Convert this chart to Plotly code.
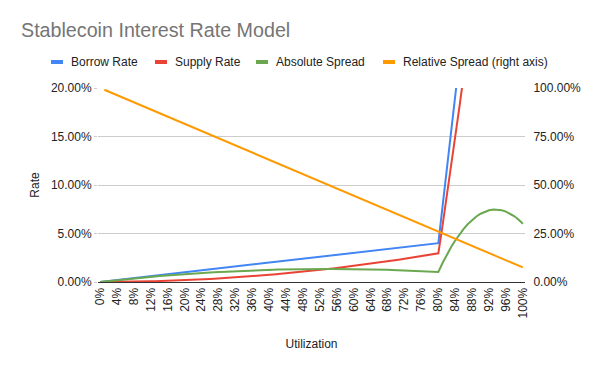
import plotly.graph_objects as go

# Utilization categories (percent)
utilization = list(range(0, 101))

tick_vals = [0, 4, 8, 12, 16, 20, 24, 28, 32, 36, 40, 44, 48, 52, 56, 60, 64, 68, 72, 76, 80, 84, 88, 92, 96, 100]
tick_text = ["0%", "4%", "8%", "12%", "16%", "20%", "24%", "28%", "32%", "36%", "40%", "44%", "48%",
             "52%", "56%", "60%", "64%", "68%", "72%", "76%", "80%", "84%", "88%", "92%", "96%", "100%"]

# Borrow rate (%), U = 0..100
borrow_rate = [
    0.00, 0.05, 0.10, 0.15, 0.20, 0.25, 0.30, 0.35, 0.40, 0.45,
    0.50, 0.55, 0.60, 0.65, 0.70, 0.75, 0.80, 0.85, 0.90, 0.95,
    1.00, 1.05, 1.10, 1.15, 1.20, 1.25, 1.30, 1.35, 1.40, 1.45,
    1.50, 1.55, 1.60, 1.65, 1.70, 1.75, 1.80, 1.85, 1.90, 1.95,
    2.00, 2.05, 2.10, 2.15, 2.20, 2.25, 2.30, 2.35, 2.40, 2.45,
    2.50, 2.55, 2.60, 2.65, 2.70, 2.75, 2.80, 2.85, 2.90, 2.95,
    3.00, 3.05, 3.10, 3.15, 3.20, 3.25, 3.30, 3.35, 3.40, 3.45,
    3.50, 3.55, 3.60, 3.65, 3.70, 3.75, 3.80, 3.85, 3.90, 3.95,
    4.00, 7.80, 11.60, 15.40, 19.20, 23.00, 26.80, 30.60, 34.40, 38.20,
    42.00, 45.80, 49.60, 53.40, 57.20, 61.00, 64.80, 68.60, 72.40, 76.20,
    80.00,
]

# Supply rate (%)
supply_rate = [
    0.000, 0.000, 0.002, 0.004, 0.007, 0.012, 0.017, 0.023, 0.030, 0.037,
    0.046, 0.056, 0.067, 0.078, 0.091, 0.104, 0.118, 0.134, 0.150, 0.167,
    0.185, 0.204, 0.224, 0.245, 0.266, 0.289, 0.313, 0.337, 0.363, 0.389,
    0.416, 0.444, 0.474, 0.504, 0.535, 0.567, 0.599, 0.633, 0.668, 0.703,
    0.740, 0.777, 0.816, 0.855, 0.895, 0.937, 0.979, 1.022, 1.066, 1.110,
    1.156, 1.203, 1.251, 1.299, 1.349, 1.399, 1.450, 1.503, 1.556, 1.610,
    1.665, 1.721, 1.778, 1.836, 1.894, 1.954, 2.015, 2.076, 2.139, 2.202,
    2.266, 2.331, 2.398, 2.465, 2.533, 2.602, 2.671, 2.742, 2.814, 2.886,
    2.960, 5.844, 8.799, 11.823, 14.918, 18.084, 21.319, 24.625, 28.002, 31.448,
    34.965, 38.552, 42.210, 45.937, 49.735, 53.604, 57.542, 61.551, 65.631, 69.780,
    74.000,
]

# Absolute spread (%)
absolute_spread = [
    0.000, 0.050, 0.098, 0.146, 0.193, 0.238, 0.283, 0.327, 0.370, 0.413,
    0.454, 0.494, 0.533, 0.572, 0.609, 0.646, 0.682, 0.716, 0.750, 0.783,
    0.815, 0.846, 0.876, 0.905, 0.934, 0.961, 0.987, 1.013, 1.037, 1.061,
    1.084, 1.106, 1.126, 1.146, 1.165, 1.183, 1.201, 1.217, 1.232, 1.247,
    1.260, 1.273, 1.284, 1.295, 1.305, 1.313, 1.321, 1.328, 1.334, 1.340,
    1.344, 1.347, 1.349, 1.351, 1.351, 1.351, 1.350, 1.347, 1.344, 1.340,
    1.335, 1.329, 1.322, 1.314, 1.306, 1.296, 1.285, 1.274, 1.261, 1.248,
    1.234, 1.219, 1.202, 1.185, 1.167, 1.148, 1.129, 1.108, 1.086, 1.064,
    1.040, 1.956, 2.801, 3.577, 4.282, 4.916, 5.481, 5.975, 6.398, 6.752,
    7.035, 7.248, 7.390, 7.463, 7.465, 7.396, 7.258, 7.049, 6.769, 6.420,
    6.000,
]

# Relative spread (%), right axis; undefined at 0% utilization
relative_spread = [
    None, 99.075, 98.150, 97.225, 96.300, 95.375, 94.450, 93.525, 92.600, 91.675,
    90.750, 89.825, 88.900, 87.975, 87.050, 86.125, 85.200, 84.275, 83.350, 82.425,
    81.500, 80.575, 79.650, 78.725, 77.800, 76.875, 75.950, 75.025, 74.100, 73.175,
    72.250, 71.325, 70.400, 69.475, 68.550, 67.625, 66.700, 65.775, 64.850, 63.925,
    63.000, 62.075, 61.150, 60.225, 59.300, 58.375, 57.450, 56.525, 55.600, 54.675,
    53.750, 52.825, 51.900, 50.975, 50.050, 49.125, 48.200, 47.275, 46.350, 45.425,
    44.500, 43.575, 42.650, 41.725, 40.800, 39.875, 38.950, 38.025, 37.100, 36.175,
    35.250, 34.325, 33.400, 32.475, 31.550, 30.625, 29.700, 28.775, 27.850, 26.925,
    26.000, 25.075, 24.150, 23.225, 22.300, 21.375, 20.450, 19.525, 18.600, 17.675,
    16.750, 15.825, 14.900, 13.975, 13.050, 12.125, 11.200, 10.275, 9.350, 8.425,
    7.500,
]

series_names = ["Borrow Rate", "Supply Rate", "Absolute Spread", "Relative Spread (right axis)"]
colors = ["#4285F4", "#EA4335", "#6AA84F", "#FF9900"]

W, H = 600, 371
T, B, L, R = 88, 89, 98, 75
plot_w = W - L - R
plot_h = H - T - B


def px_x(px):
    return (px - L) / plot_w


def px_y(py):
    return (H - B - py) / plot_h


fig = go.Figure()
data_sets = [borrow_rate, supply_rate, absolute_spread, relative_spread]
axes = ["y", "y", "y", "y2"]
for name, vals, col, ax in zip(series_names, data_sets, colors, axes):
    fig.add_trace(go.Scatter(
        x=utilization, y=vals, mode="lines", name=name, yaxis=ax,
        line=dict(color=col, width=2), showlegend=False, connectgaps=False,
    ))

# Custom single-row legend (swatch + label) in the top margin
legend_swatch_px = [51, 155, 256, 383]
legend_y_px = 62
font_family = "Arial, Liberation Sans, sans-serif"
for name, col, sx in zip(series_names, colors, legend_swatch_px):
    fig.add_shape(type="line", xref="paper", yref="paper",
                  x0=px_x(sx), x1=px_x(sx + 12), y0=px_y(legend_y_px), y1=px_y(legend_y_px),
                  line=dict(color=col, width=4))
    fig.add_annotation(text=name, xref="paper", yref="paper", x=px_x(sx + 18), y=px_y(legend_y_px),
                       xanchor="left", yanchor="middle", showarrow=False,
                       font=dict(size=12, color="#222222", family=font_family))

fig.update_layout(
    width=W, height=H,
    margin=dict(l=L, r=R, t=T, b=B, autoexpand=False),
    paper_bgcolor="white", plot_bgcolor="white",
    showlegend=False,
    font=dict(family=font_family, size=12, color="#222222"),
    title=dict(text="Stablecoin Interest Rate Model", xref="container", yref="container",
               x=21 / W, xanchor="left", y=1 - 30 / H, yanchor="middle",
               font=dict(size=19.7, color="#757575", family=font_family)),
    xaxis=dict(range=[-0.5, 100.5], tickmode="array", tickvals=tick_vals, ticktext=tick_text,
               tickangle=-90, showgrid=False, zeroline=False, showline=True,
               linecolor="#333333", linewidth=1, ticks="", automargin=False,
               title=dict(text="Utilization", standoff=22, font=dict(size=12, color="#222222"))),
    yaxis=dict(range=[0, 20], dtick=5, tick0=0, tickformat=".2f", ticksuffix="%",
               showgrid=True, gridcolor="#cccccc", gridwidth=1, zeroline=False,
               ticks="outside", ticklen=3, tickcolor="#cccccc", automargin=False,
               title=dict(text="Rate", standoff=8, font=dict(size=12, color="#222222"))),
    yaxis2=dict(range=[0, 100], dtick=25, tick0=0, tickformat=".2f", ticksuffix="%",
                overlaying="y", side="right", showgrid=False, zeroline=False,
                ticks="outside", ticklen=5, tickcolor="rgba(0,0,0,0)", automargin=False),
)

fig.write_html("out.html", config={"displayModeBar": False},
               post_script="document.body.style.margin='0';")
